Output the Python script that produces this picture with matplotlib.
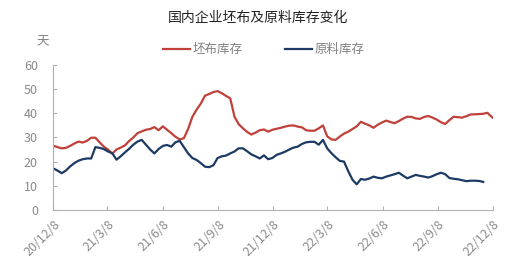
import matplotlib
matplotlib.use("Agg")
import matplotlib.pyplot as plt
import pandas as pd

plt.rcParams['font.family'] = ['Noto Sans CJK SC', 'DejaVu Sans']

title = "国内企业坯布及原料库存变化"
series_names = ["坯布库存", "原料库存"]
y_unit = "天"

start_date = "2020-12-08"
greige = [26.6, 26.0, 25.5, 25.7, 26.5, 27.5, 28.3, 27.9, 28.6, 29.9,
          29.9, 28.0, 26.2, 25.0, 23.3, 25.0, 25.8, 26.7, 28.5, 30.0,
          31.8, 32.5, 33.2, 33.5, 34.3, 33.0, 34.6, 33.2, 31.8, 30.3,
          29.2, 29.7, 33.5, 38.5, 41.5, 44.0, 47.3, 48.0, 48.8, 49.2,
          48.3, 47.2, 46.2, 38.6, 35.5, 33.8, 32.3, 31.2, 32.0, 33.0,
          33.3, 32.4, 33.2, 33.6, 34.0, 34.5, 34.9, 35.0, 34.5, 34.2,
          33.0, 32.8, 32.8, 33.8, 35.0, 30.5, 29.2, 29.0, 30.4, 31.6,
          32.4, 33.5, 34.6, 36.5, 35.7, 35.0, 34.0, 35.3, 36.2, 37.0,
          36.4, 35.9, 36.8, 37.8, 38.6, 38.5, 37.9, 37.7, 38.5, 38.9,
          38.2, 37.4, 36.3, 35.6, 37.2, 38.6, 38.4, 38.2, 38.8, 39.5,
          39.6, 39.7, 39.8, 40.2, 38.6, 37.2]
raw = [17.2, 16.3, 15.2, 16.3, 18.0, 19.4, 20.4, 21.0, 21.3, 21.3,
       26.0, 25.7, 25.2, 24.2, 23.5, 20.8, 22.2, 23.8, 25.3, 27.0,
       28.3, 29.0, 27.0, 25.0, 23.4, 25.2, 26.5, 26.9, 26.2, 28.0,
       28.6, 26.0, 23.4, 21.5, 20.7, 19.4, 17.9, 17.7, 18.5, 21.5,
       22.2, 22.5, 23.4, 24.2, 25.5, 25.5, 24.3, 23.0, 22.2, 21.3,
       22.6, 21.0, 21.5, 22.8, 23.4, 24.1, 25.0, 25.8, 26.2, 27.3,
       28.0, 28.2, 28.2, 27.0, 29.0, 25.5, 23.5, 21.8, 20.3, 20.0,
       16.0, 12.5, 10.6, 12.8, 12.5, 13.0, 13.8, 13.3, 13.1, 13.8,
       14.3, 14.8, 15.4, 14.2, 13.1, 13.8, 14.5, 14.1, 13.8, 13.4,
       14.0, 14.8, 15.4, 14.8, 13.2, 12.9, 12.7, 12.3, 11.9, 12.1,
       12.1, 12.0, 11.6]
tick_dates = ["2020-12-08", "2021-03-08", "2021-06-08", "2021-09-08", "2021-12-08",
              "2022-03-08", "2022-06-08", "2022-09-08", "2022-12-08"]
tick_labels = ["20/12/8", "21/3/8", "21/6/8", "21/9/8", "21/12/8",
               "22/3/8", "22/6/8", "22/9/8", "22/12/8"]
y_ticks = [0, 10, 20, 30, 40, 50, 60]

d_greige = pd.date_range(start_date, periods=len(greige), freq="7D")
d_raw = pd.date_range(start_date, periods=len(raw), freq="7D")

fig = plt.figure(figsize=(5.22, 2.56), dpi=100)
ax = fig.add_axes([0.102, 0.18, 0.842, 0.566])

red = "#C0403A"
blue = "#1C3A64"
l1, = ax.plot(d_greige, greige, color=red, lw=1.6, label=series_names[0])
l2, = ax.plot(d_raw, raw, color=blue, lw=1.6, label=series_names[1])

ax.set_xlim(pd.Timestamp(tick_dates[0]), pd.Timestamp(tick_dates[-1]))
ax.set_ylim(0, 60)
ax.set_yticks(y_ticks)
ax.set_xticks([pd.Timestamp(t) for t in tick_dates])
ax.set_xticklabels(tick_labels, rotation=45, ha="right", rotation_mode="anchor")

for s in ["top", "right"]:
    ax.spines[s].set_visible(False)
for s in ["left", "bottom"]:
    ax.spines[s].set_color("#B0B0B0")
    ax.spines[s].set_linewidth(0.8)
ax.tick_params(axis="both", direction="in", length=3, color="#B0B0B0",
               labelcolor="#8A8A8A", labelsize=9)
ax.tick_params(axis="x", pad=6)
ax.tick_params(axis="y", pad=11)

fig.text(0.495, 0.93, title, ha="center", va="center", fontsize=10, color="#222222")
fig.text(0.082, 0.835, y_unit, ha="center", va="center", fontsize=9, color="#808080")
fig.legend(handles=[l1, l2], loc="center", bbox_to_anchor=(0.505, 0.805), ncol=2,
           frameon=False, fontsize=9, labelcolor="#808080", handlelength=2.2,
           handletextpad=0.15, columnspacing=3.4)

fig.savefig("out.png", dpi=100)
